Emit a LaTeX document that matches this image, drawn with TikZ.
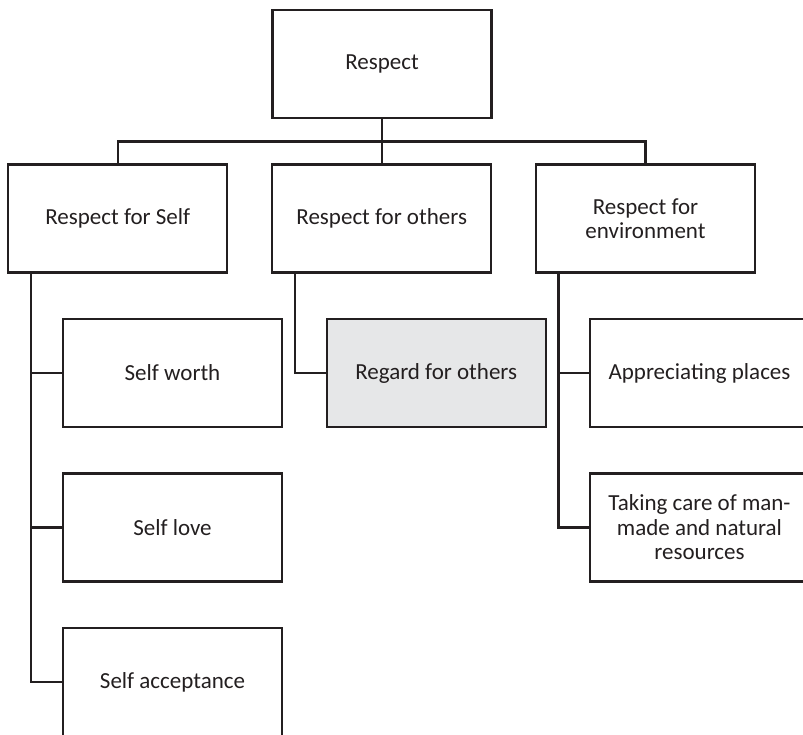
\documentclass[tikz,border=0pt]{standalone}
\usepackage{fontspec}
\setmainfont{Carlito}
\definecolor{ink}{HTML}{231F20}
\definecolor{shade}{HTML}{E6E7E8}
\tikzset{
  box/.style={draw=ink, line width=2.3pt, minimum width=219pt, minimum height=108pt,
    inner sep=0pt, outer sep=0pt, align=center, text=ink,
    font=\fontsize{23}{24.5}\selectfont},
  link/.style={draw=ink, line width=2.3pt},
}
\begin{document}
\begin{tikzpicture}[x=1pt,y=-1pt]
\useasboundingbox (0,0) rectangle (803,734);
\begin{scope}
\clip (0,0) rectangle (803,734);
\node[box] (R)   at (382,64)      {Respect};
\node[box] (RS)  at (117.8,218.5) {Respect for Self};
\node[box] (RO)  at (381.7,218.5) {Respect for others};
\node[box] (RE)  at (645.5,218.5) {Respect for\\environment};
\node[box] (SW)  at (172.5,373)   {Self worth};
\node[box] (SL)  at (172.5,527.5) {Self love};
\node[box] (SA)  at (172.5,682)   {Self acceptance};
\node[box, fill=shade] (RG) at (436.2,373) {Regard for others};
\node[box] (AP)  at (699.5,373)   {Appreciating places};
\node[box] (TC)  at (699.5,527.5) {Taking care of man-\\made and natural\\resources};
\coordinate (bus) at (0,141.5);
\draw[link] (R.south) -- (R.south |- bus);
\draw[link] (RS.north) -- (RS.north |- bus) -- (RE.north |- bus) -- (RE.north);
\draw[link] (RO.north |- bus) -- (RO.north);
\coordinate (s1) at ([xshift=22.5pt]RS.south west);
\coordinate (s2) at ([xshift=22.5pt]RO.south west);
\coordinate (s3) at ([xshift=22.5pt]RE.south west);
\draw[link] (s1) |- (SA.west);
\draw[link] (s1 |- SW.west) -- (SW.west);
\draw[link] (s1 |- SL.west) -- (SL.west);
\draw[link] (s2) |- (RG.west);
\draw[link] (s3) |- (TC.west);
\draw[link] (s3 |- AP.west) -- (AP.west);
\end{scope}
\end{tikzpicture}
\end{document}
